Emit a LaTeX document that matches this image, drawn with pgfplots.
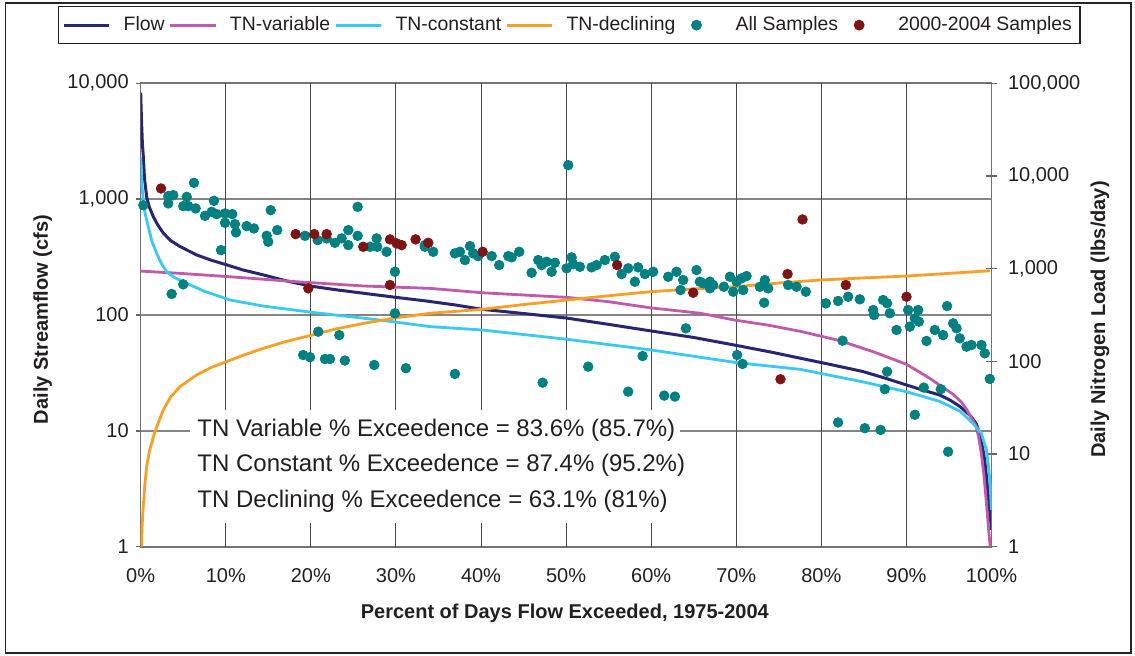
\documentclass[border=0pt]{standalone}
\usepackage{pgfplots}
\pgfplotsset{compat=1.18}
\usepackage{fontspec}
\setmainfont{Liberation Sans}

\definecolor{flownavy}{RGB}{40,38,112}
\definecolor{tnvar}{RGB}{192,90,170}
\definecolor{tncon}{RGB}{60,200,245}
\definecolor{tndec}{RGB}{247,160,40}
\definecolor{allsamp}{RGB}{0,128,128}
\definecolor{recsamp}{RGB}{125,20,22}
\definecolor{txt}{RGB}{35,31,32}

\pgfplotsset{
  lineleg/.style={legend image code/.code={\draw[##1] (0cm,0cm) -- (0.8cm,0cm);}},
  markleg/.style={legend image code/.code={\draw[##1] plot coordinates {(0.3cm,0cm)}; \path[draw=none, fill=none] (0cm,0cm) -- (0.76cm,0cm);}},
}

\begin{document}
\begin{tikzpicture}
\useasboundingbox (-70.35pt,-54.15pt) rectangle (497.15pt,273.35pt);

% left axis: streamflow
\begin{axis}[
  scale only axis, width=425.4pt, height=231.7pt,
  xmin=0, xmax=100,
  ymode=log, ymin=1, ymax=10000, yminorticks=false,
  axis line style={black!55, line width=0.8pt},
  tick style={black!60, line width=0.7pt},
  tick label style={font=\fontsize{10}{12}\selectfont, text=txt},
  ytick={1,10,100,1000,10000},
  yticklabels={1,10,100,{1,000},{10,000}},
  xtick={0,10,...,100},
  xticklabels={0\%,10\%,20\%,30\%,40\%,50\%,60\%,70\%,80\%,90\%,100\%},
  xtick pos=bottom, ytick pos=left,
  tick align=outside, major tick length=2.5pt,
  xtick style={draw=none},
  xticklabel style={yshift=-5pt},
  ymajorgrids,
  major grid style={black!48, line width=0.8pt},
  extra x ticks={10,20,30,40,50,60,70,80,90},
  extra x tick labels={},
  extra x tick style={grid=major, major grid style={black!72, line width=0.5pt}},
  xlabel={Percent of Days Flow Exceeded, 1975-2004},
  ylabel={Daily Streamflow (cfs)},
  every axis x label/.style={at={(rel axis cs:0.4985,-0.1431)}, anchor=center,
    font=\bfseries\fontsize{10}{12}\selectfont, text=txt},
  every axis y label/.style={at={(rel axis cs:-0.1152,0.49)}, rotate=90, anchor=center,
    font=\bfseries\fontsize{10}{12}\selectfont, text=txt},
]
\addplot[flownavy, line width=1.5pt, line join=round] coordinates {
(0,8300) (0.05,6000) (0.12,4300) (0.2,3000) (0.31,2330) (0.45,1500) (0.7,1050)
(1.0,860) (1.48,707) (2.0,600) (2.66,509) (3.5,440) (4.62,390) (6.58,330)
(8.3,297) (10.1,271) (12,245) (14.4,222) (17,198) (19.9,178) (23,165)
(26.2,154) (30,142) (33.6,132) (37,122) (40.1,112) (45,103) (50.1,94)
(55,83) (59.9,73) (65,64) (69.8,55) (74,48) (77.5,42.4) (81,37.5)
(84.9,32.5) (87.5,28.5) (90,24.9) (92,22.4) (93.9,20.4) (95.2,18.3)
(96.3,16.2) (97.1,14.4) (97.6,13.3) (98.2,11.5) (98.6,9.6) (98.9,7.5)
(99.2,5.6) (99.4,4.1) (99.6,2.9) (99.8,2.0) (100,1.4)};
\end{axis}

% right axis: nitrogen load
\begin{axis}[
  scale only axis, width=425.4pt, height=231.7pt,
  xmin=0, xmax=100,
  ymode=log, ymin=1, ymax=100000, yminorticks=false,
  axis line style={black!55, line width=0.8pt},
  tick style={black!60, line width=0.7pt},
  tick label style={font=\fontsize{10}{12}\selectfont, text=txt},
  axis y line*=right, axis x line=none,
  ytick={1,10,100,1000,10000,100000},
  yticklabels={1,10,100,{1,000},{10,000},{100,000}},
  tick align=center, major tick length=5.5pt,
  yticklabel style={xshift=2pt},
  ylabel={Daily Nitrogen Load (lbs/day)},
  every axis y label/.style={at={(rel axis cs:1.1275,0.49)}, rotate=90, anchor=center,
    font=\bfseries\fontsize{10}{12}\selectfont, text=txt},
  legend columns=6,
  legend cell align=left,
  legend style={at={(0.5035,1.1668)}, anchor=north, draw=txt, line width=0.6pt,
    fill=white, font=\fontsize{9.7}{12}\selectfont, text=txt,
    inner xsep=2pt, inner ysep=3pt,
    /tikz/every odd column/.append style={column sep=4.5pt}},
]
\addlegendimage{flownavy, line width=1.5pt, lineleg}
\addlegendentry{Flow}

\addplot[tnvar, line width=1.4pt, line join=round, lineleg] coordinates {
(0,942) (4.6,890) (10.5,818) (18.3,723) (26.2,650) (34,613) (40.1,550)
(50.1,490) (55,440) (59.9,378) (65.8,330) (69.8,279) (73.6,247) (77.5,211)
(82.2,167) (84.9,138) (86.1,127) (90,93) (92.7,66) (95.5,44) (96.5,36)
(97.1,30) (97.7,24) (98.2,19.8) (98.5,15) (98.8,10.2) (99.1,6) (99.3,3.8)
(99.5,2.3) (99.7,1.4) (99.85,1.0)};
\addlegendentry{TN-variable}

\addplot[tncon, line width=1.4pt, line join=round, lineleg] coordinates {
(0,16000) (0.05,12000) (0.12,8300) (0.3,5500) (0.5,4000) (0.89,2830)
(1.3,2000) (1.88,1460) (2.4,1150) (3.06,926) (4,800) (5.0,723) (7.4,574)
(10.5,459) (14.4,395) (20.1,338) (28.1,279) (34,237) (40.1,218) (50.1,173)
(59.9,133) (70,97) (77.5,82) (84.9,60) (90,47) (93.9,37) (96.3,29)
(97.8,21.5) (98.8,16.8) (99.4,11.1) (99.6,8) (99.8,5.3) (100,2.5)};
\addlegendentry{TN-constant}

\addplot[tndec, line width=1.4pt, line join=round, lineleg] coordinates {
(0.1,1) (0.15,1.6) (0.3,2.7) (0.5,4.8) (0.7,7.3) (1.0,10.5) (1.5,15.4)
(2.0,21) (2.66,29.9) (3.5,41) (4.62,53.4) (6.58,71.3) (8.3,86) (10.1,99.3)
(12,116) (14.4,138) (17,163) (20.1,192) (23,224) (26.2,257) (30,295)
(34,330) (40.1,364) (45,410) (50.1,459) (55,510) (59.9,564) (65,605)
(69.8,638) (75,700) (79.8,754) (85,795) (90,832) (95,890) (99.8,949)};
\addlegendentry{TN-declining}

\addplot[only marks, mark=*, mark size=2.4pt, draw=allsamp, fill=allsamp, markleg] coordinates {
(0.31,4842) (3.24,6060) (3.83,6210) (3.24,5055) (5.41,5955) (5.0,4730)
(5.59,4730) (6.46,4465) (6.26,8430) (8.61,5395) (7.56,3715) (8.34,4105)
(8.93,3875) (9.91,3945) (10.76,3875) (9.91,3125) (11.08,3025) (11.2,2460)
(12.46,2877) (13.31,2717) (15.28,4277) (14.81,2263) (14.99,1950) (16.05,2606)
(9.44,1586) (19.31,2263) (20.8,2033) (21.86,2122) (22.83,1901) (23.62,2122)
(24.4,2606) (24.4,1796) (25.5,2263) (25.5,4645) (26.95,1722) (27.73,2122)
(27.8,1722) (28.9,1521) (29.88,926) (29.88,330) (3.64,533) (5.0,677)
(33.4,1722) (20.87,209) (23.34,192) (19.1,117) (19.9,111) (21.66,106)
(22.24,106) (24.0,102) (27.45,91.4) (31.17,84.3) (50.25,13070) (33.4,1796)
(34.38,1521) (36.93,1462) (37.52,1521) (38.11,1238) (38.7,1753) (39.08,1462)
(39.67,1367) (41.25,1367) (42.14,1093) (43.2,1367) (43.6,1324) (44.49,1521)
(45.95,903) (46.72,1238) (47.12,1093) (47.71,1187) (48.3,926) (48.68,1158)
(50.06,1008) (50.65,1324) (50.83,1121) (51.62,1048) (53.0,1033) (53.58,1093)
(54.56,1238) (55.73,1343) (56.52,875) (57.3,1008) (58.08,723) (58.47,1033)
(59.26,875) (60.23,926) (62.0,818) (62.98,926) (63.76,754) (63.45,588)
(65.33,966) (65.72,723) (66.9,723) (67.29,666) (64.08,227) (36.93,73.2)
(47.24,58.9) (52.6,87.7) (58.99,114) (57.3,47.1) (61.53,42.7) (62.79,41.7)
(66.11,695) (66.9,613) (68.54,638) (69.25,818) (69.64,564) (70.04,723)
(70.62,786) (70.81,588) (71.21,832) (72.77,638) (73.36,754) (73.75,613)
(73.28,429) (76.1,666) (77.09,638) (78.18,564) (80.53,423) (81.97,448)
(83.15,498) (84.52,467) (86.09,358) (86.2,316) (87.26,459) (87.73,423)
(88.05,330) (88.84,218) (90.2,358) (90.4,237) (90.99,291) (91.38,358)
(91.46,268) (92.36,166) (93.34,218) (94.31,192) (94.78,395) (95.49,257)
(95.89,227) (96.27,177) (97.06,144) (97.65,150) (98.82,150) (99.21,122)
(99.8,64.6) (70.1,117) (70.74,93.7) (82.49,167) (87.73,77.4) (87.46,50.1)
(92.04,52.1) (94.04,50.1) (90.99,26.5) (81.97,21.9) (85.11,19.0) (86.96,18.2)
(94.9,10.6)};
\addlegendentry{All Samples}

\addplot[only marks, mark=*, mark size=2.4pt, draw=recsamp, fill=recsamp, markleg] coordinates {
(2.39,7330) (18.21,2360) (20.4,2360) (21.86,2360) (26.16,1722) (29.3,2069)
(30.08,1874) (30.67,1796) (32.31,2069) (33.8,1901) (19.7,613) (29.3,666)
(40.19,1521) (56.0,1093) (64.94,550) (77.79,3397) (76.03,875) (82.88,666)
(90.01,498) (75.2,64.1)};
\addlegendentry{2000-2004 Samples}
\end{axis}

% annotation box
\fill[white] (24.65pt,11.85pt) rectangle (269.65pt,68.35pt);
\begin{scope}[every node/.style={anchor=west, inner sep=0pt, text=txt, font=\fontsize{12}{14}\selectfont}]
\node at (28.2pt,58.3pt) {TN Variable \% Exceedence = 83.6\% (85.7\%)};
\node at (28.2pt,40.8pt) {TN Constant \% Exceedence = 87.4\% (95.2\%)};
\node at (28.2pt,22.8pt) {TN Declining \% Exceedence = 63.1\% (81\%)};
\end{scope}

% outer frame
\draw[black!85, line width=0.7pt] (-67.6pt,-53.2pt) rectangle (495.1pt,271.85pt);
\end{tikzpicture}
\end{document}
